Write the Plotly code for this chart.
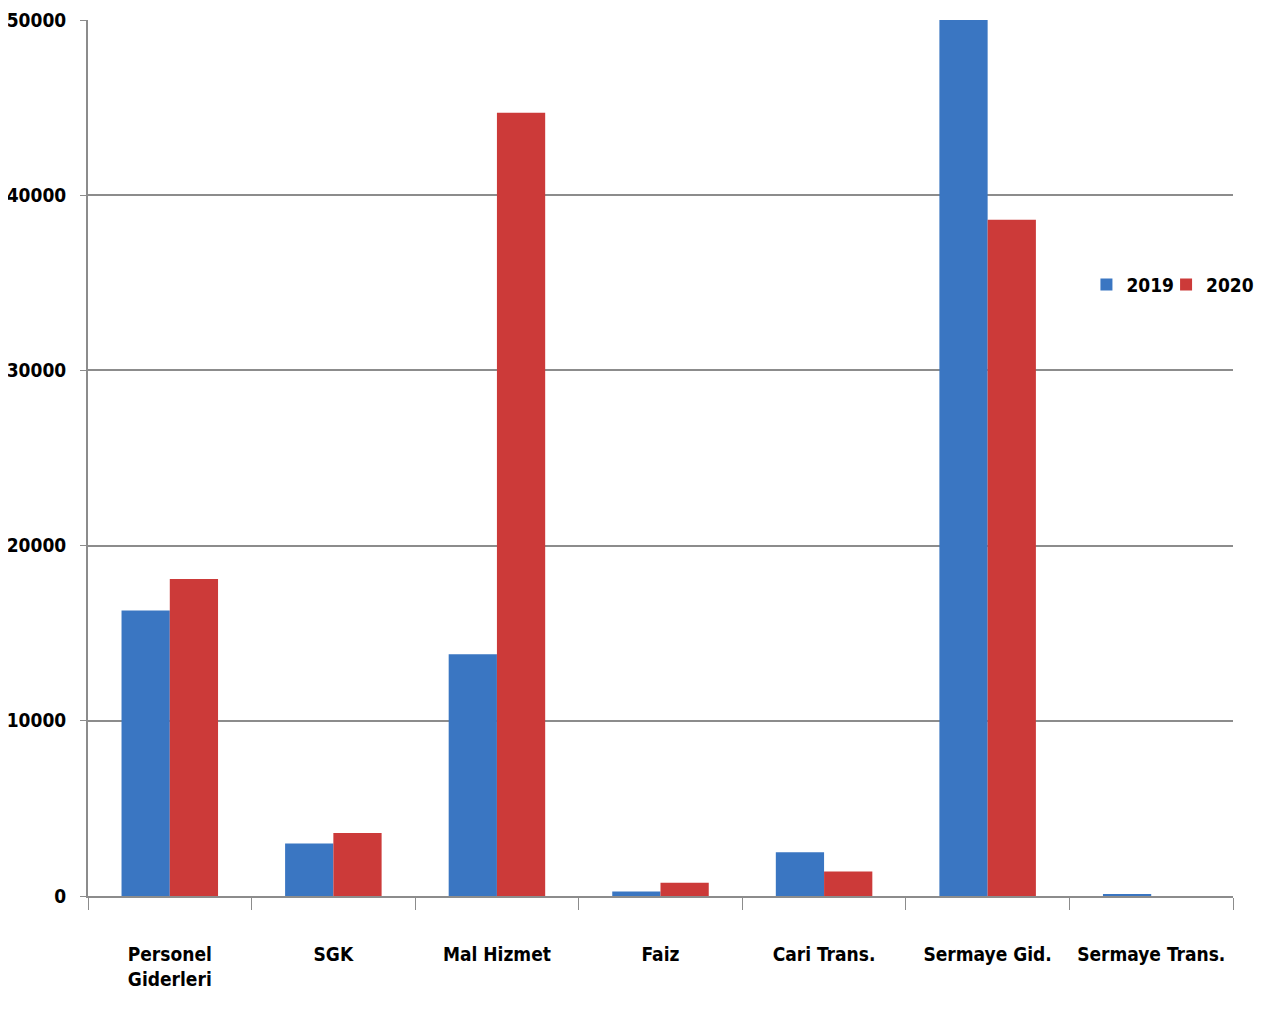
import plotly.graph_objects as go

categories = ["Personel<br>Giderleri", "SGK", "Mal Hizmet", "Faiz", "Cari Trans.", "Sermaye Gid.", "Sermaye Trans."]
values_2019 = [16300, 3000, 13800, 250, 2500, 50000, 100]
values_2020 = [18100, 3600, 44700, 750, 1400, 38600, 0]
y_ticks = [0, 10000, 20000, 30000, 40000, 50000]

FONT = "DejaVu Sans Condensed, Liberation Sans Narrow, Arial Narrow, sans-serif"

fig = go.Figure()
fig.add_trace(go.Bar(name="2019", x=categories, y=values_2019, legend="legend", showlegend=True,
                     marker=dict(color="#3A76C2", line=dict(width=0))))
fig.add_trace(go.Bar(name="2020", x=categories, y=values_2020, legend="legend2", showlegend=True,
                     marker=dict(color="#CC3A39", line=dict(width=0))))

legend_common = dict(orientation="h", xref="container", yref="container",
                     y=0.726, xanchor="left", yanchor="middle",
                     font=dict(family=FONT, size=19, color="black", weight="bold"),
                     bgcolor="rgba(0,0,0,0)", itemwidth=30, visible=True)

fig.update_layout(
    width=1254, height=1010,
    showlegend=True,
    margin=dict(l=80, r=29, t=12, b=122, autoexpand=False),
    paper_bgcolor="white", plot_bgcolor="white",
    barmode="group", bargap=0.41, bargroupgap=0,
    font=dict(family=FONT, size=19, color="black"),
    legend=dict(x=0.860, **legend_common),
    legend2=dict(x=0.9235, **legend_common),
)
fig.update_xaxes(
    type="category", showline=True, linecolor="#8C8C8C", linewidth=2,
    ticks="outside", tickson="boundaries", ticklen=12, tickcolor="#8C8C8C", tickwidth=1,
    tickfont=dict(family=FONT, size=19, color="black", weight="bold"),
    tickangle=0, automargin=False,
    ticklabelstandoff=40, showgrid=False,
)
fig.update_yaxes(
    range=[0, 50000], tickvals=y_ticks, ticktext=[str(v) for v in y_ticks],
    showline=True, linecolor="#8C8C8C", linewidth=2, automargin=False,
    ticks="outside", ticklen=6, tickcolor="#8C8C8C", tickwidth=1,
    showgrid=True, gridcolor="#8C8C8C", gridwidth=2, zeroline=False,
    tickfont=dict(family=FONT, size=19, color="black", weight="bold"),
    ticklabelstandoff=10,
)

fig.write_html("out.html")
